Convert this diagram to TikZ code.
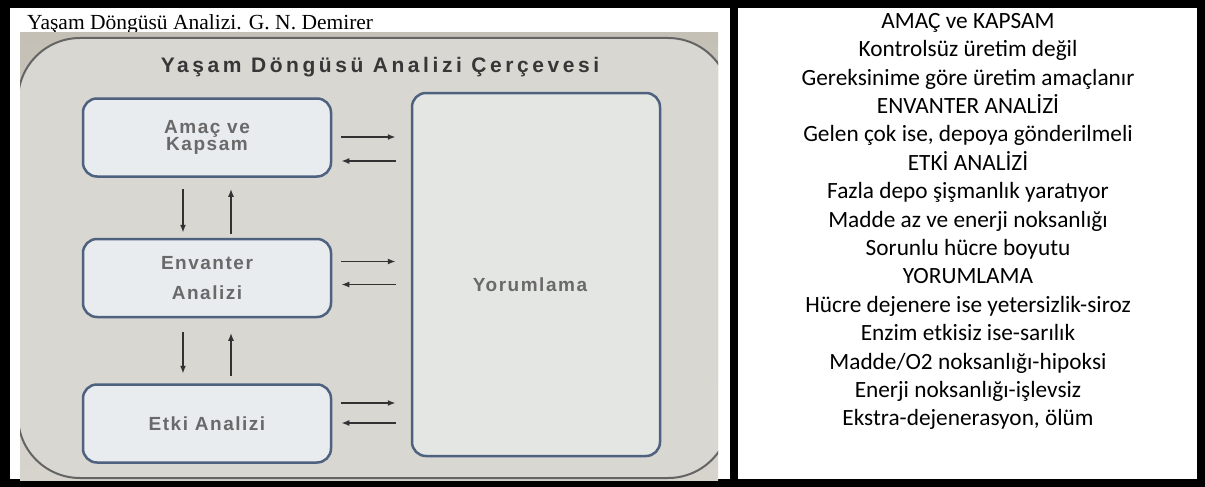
\documentclass[tikz,border=0pt]{standalone}
\usepackage{fontspec}
\setmainfont{Liberation Serif}
\newfontfamily\calibrifont{Carlito}
\newfontfamily\photofont[LetterSpace=8]{Liberation Sans}
\newfontfamily\titlefont[LetterSpace=17]{Liberation Sans}
\usepackage{tikz}
\usetikzlibrary{arrows.meta, positioning}

\definecolor{phototop}{RGB}{196,192,182}
\definecolor{photobottom}{RGB}{214,212,205}
\definecolor{framefill}{RGB}{216,215,209}
\definecolor{framegray}{RGB}{100,100,100}
\definecolor{boxfill}{RGB}{233,236,238}
\definecolor{yorumfill}{RGB}{228,230,228}
\definecolor{boxline}{RGB}{78,98,128}
\definecolor{boxtext}{RGB}{105,105,105}
\definecolor{titlegray}{RGB}{55,55,55}
\definecolor{arrowgray}{RGB}{50,50,50}

\begin{document}
\begin{tikzpicture}[x=1pt, y=1pt, node distance=60pt,
    stagetext/.style={text=boxtext, font=\photofont\bfseries\fontsize{19}{18}\selectfont},
    stage/.style={stagetext, draw=boxline, line width=2.5pt, fill=boxfill, rounded corners=14pt,
        minimum width=248pt, minimum height=78pt, inner sep=0pt, align=center},
    flow/.style={draw=arrowgray, line width=1.6pt, -{Latex[length=8pt,width=6pt]}}]
        % table borders
        \fill[black] (0,0) rectangle (1205,-487);
        \fill[white] (10,-8) rectangle (730,-479);
        \fill[white] (738,-8) rectangle (1197,-479);

        \node (caption) [anchor=base west, inner sep=0pt, font=\fontsize{21.5}{25}\selectfont] at (27,-30) {Yaşam Döngüsü Analizi. G. N. Demirer};

        % photographed diagram
        \begin{scope}
            \clip (20,-33) rectangle (718,-480);
            \shade[top color=phototop, bottom color=photobottom] (20,-33) rectangle (718,-480);
            \draw[framegray, fill=framefill, line width=2pt, rounded corners=62pt] (18,-38) rectangle (730,-478);
        \end{scope}

        \node (title) [text=titlegray, font=\titlefont\bfseries\fontsize{21}{22}\selectfont] at (380,-67) {Yaşam Döngüsü Analizi Çerçevesi};

        \node (amac) [stage] at (207,-137.5) {Amaç ve\\[-1pt]Kapsam};
        \node (envanter) [stage, below=of amac] {Envanter\\[12pt]Analizi};
        \node (etki) [stage, below=65pt of envanter] {Etki Analizi};
        \node (yorum) [stage, fill=yorumfill, minimum height=363pt,
            label={[stagetext, xshift=-6pt, yshift=-10pt]center:Yorumlama}] at (536,-274.5) {};

        \draw[flow, shorten <=9pt, shorten >=15pt] ([yshift=0.5pt]amac.east) -- ([yshift=0.5pt]amac.east -| yorum.west);
        \draw[flow, shorten <=15pt, shorten >=9pt] ([yshift=-23.5pt]amac.east -| yorum.west) -- ([yshift=-23.5pt]amac.east);
        \draw[flow, shorten <=9pt, shorten >=15pt] ([yshift=16.5pt]envanter.east) -- ([yshift=16.5pt]envanter.east -| yorum.west);
        \draw[flow, shorten <=15pt, shorten >=9pt] ([yshift=-6.5pt]envanter.east -| yorum.west) -- ([yshift=-6.5pt]envanter.east);
        \draw[flow, shorten <=9pt, shorten >=15pt] ([yshift=20.5pt]etki.east) -- ([yshift=20.5pt]etki.east -| yorum.west);
        \draw[flow, shorten <=15pt, shorten >=9pt] ([yshift=0.5pt]etki.east -| yorum.west) -- ([yshift=0.5pt]etki.east);

        \draw[flow, shorten <=11pt, shorten >=5pt] ([xshift=-24pt]amac.south) -- ([xshift=-24pt]amac.south |- envanter.north);
        \draw[flow, shorten <=4pt, shorten >=11pt] ([xshift=24pt]amac.south |- envanter.north) -- ([xshift=24pt]amac.south);
        \draw[flow, shorten <=13.5pt, shorten >=9.5pt] ([xshift=-24pt]envanter.south) -- ([xshift=-24pt]envanter.south |- etki.north);
        \draw[flow, shorten <=7.5pt, shorten >=14.5pt] ([xshift=24pt]envanter.south |- etki.north) -- ([xshift=24pt]envanter.south);

        % notes column
        \node (notes) [anchor=north, align=center, inner sep=0pt, font=\calibrifont\fontsize{23.3}{28.4}\selectfont] at (968,-13) {AMAÇ ve KAPSAM\\
            Kontrolsüz üretim değil\\
            Gereksinime göre üretim amaçlanır\\
            ENVANTER ANALİZİ\\
            Gelen çok ise, depoya gönderilmeli\\
            ETKİ ANALİZİ\\
            Fazla depo şişmanlık yaratıyor\\
            Madde az ve enerji noksanlığı\\
            Sorunlu hücre boyutu\\
            YORUMLAMA\\
            Hücre dejenere ise yetersizlik-siroz\\
            Enzim etkisiz ise-sarılık\\
            Madde/O2 noksanlığı-hipoksi\\
            Enerji noksanlığı-işlevsiz\\
            Ekstra-dejenerasyon, ölüm};
    \end{tikzpicture}
\end{document}
